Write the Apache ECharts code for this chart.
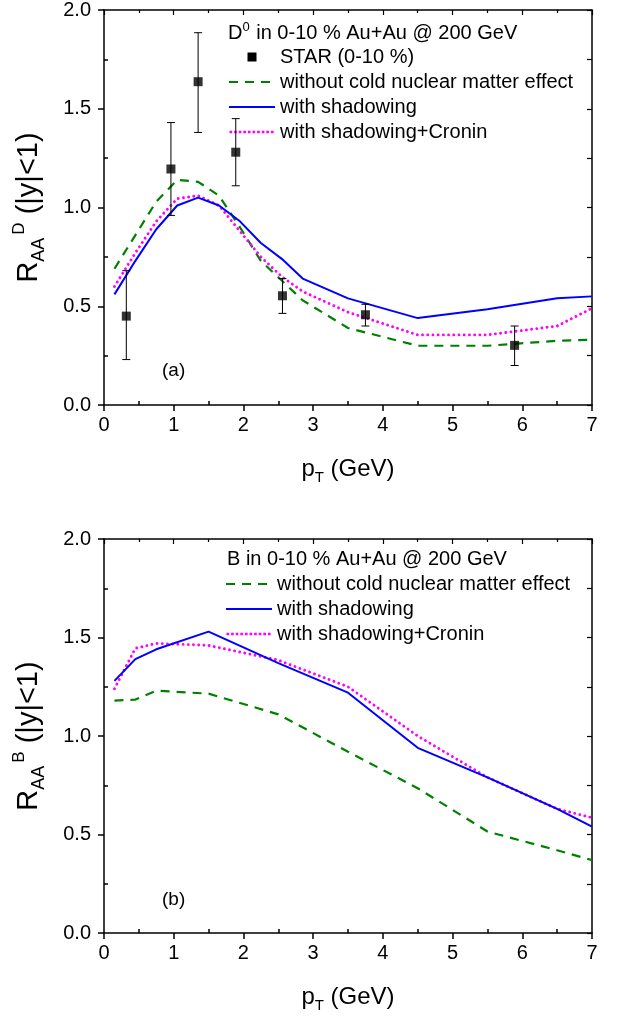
<!DOCTYPE html>
<html>
<head>
<meta charset="utf-8">
<script src="https://cdn.jsdelivr.net/npm/echarts@6/dist/echarts.min.js"></script>
<style>
html,body{margin:0;padding:0;background:#fff;}
#c{width:618px;height:1016px;}
</style>
</head>
<body>
<div id="c"></div>
<script>
// ---------- data ----------
const xTicks = [0, 1, 2, 3, 4, 5, 6, 7];
const yTicks = [0.0, 0.5, 1.0, 1.5, 2.0];

// panel (a): D meson
const ptD = [0.15, 0.45, 0.75, 1.05, 1.35, 1.65, 1.95, 2.25, 2.55, 2.85, 3.5, 4.5, 5.5, 6.5, 7.0];
const dNoCNM   = [0.69, 0.86, 1.03, 1.14, 1.13, 1.06, 0.90, 0.73, 0.63, 0.53, 0.39, 0.30, 0.30, 0.325, 0.33];
const dShadow  = [0.56, 0.73, 0.89, 1.01, 1.05, 1.01, 0.93, 0.82, 0.74, 0.64, 0.54, 0.44, 0.485, 0.54, 0.55];
const dCronin  = [0.60, 0.77, 0.93, 1.045, 1.06, 1.01, 0.88, 0.75, 0.65, 0.575, 0.47, 0.355, 0.355, 0.40, 0.49];

const starPt   = [0.32, 0.96, 1.35, 1.89, 2.56, 3.75, 5.89];
const starR    = [0.45, 1.195, 1.637, 1.28, 0.553, 0.457, 0.302];
const starLow  = [0.23, 0.96, 1.38, 1.11, 0.464, 0.40, 0.20];
const starHigh = [0.68, 1.43, 1.885, 1.45, 0.64, 0.51, 0.40];

// panel (b): B meson
const ptB = [0.15, 0.45, 0.75, 1.5, 2.5, 3.5, 4.5, 5.5, 6.5, 7.0];
const bNoCNM  = [1.18, 1.185, 1.23, 1.215, 1.11, 0.92, 0.735, 0.515, 0.42, 0.37];
const bShadow = [1.28, 1.39, 1.44, 1.53, 1.37, 1.22, 0.94, 0.79, 0.63, 0.54];
const bCronin = [1.24, 1.445, 1.47, 1.46, 1.385, 1.25, 1.00, 0.79, 0.63, 0.585];

const names = {
  star: 'STAR (0-10 %)',
  none: 'without cold nuclear matter effect',
  shad: 'with shadowing',
  cron: 'with shadowing+Cronin'
};

// ---------- helpers ----------
const FONT = 'Arial, "Liberation Sans", sans-serif';
const zip = (xs, ys) => xs.map((x, i) => [x, ys[i]]);
const midpoints = arr => arr.slice(0, -1).map((v, i) => (v + arr[i + 1]) / 2);
const xMinor = midpoints(xTicks);
const yMinor = midpoints(yTicks);
const xMin = xTicks[0], xMax = xTicks[xTicks.length - 1];
const yMin = yTicks[0], yMax = yTicks[yTicks.length - 1];

const axisLine = {show: true, onZero: false, lineStyle: {color: '#000', width: 1.5}};

function axesFor(gridIndex, yName) {
  const xs = [
    {
      type: 'value', gridIndex, min: xMin, max: xMax, interval: 1, position: 'bottom',
      axisLine, splitLine: {show: false},
      axisTick: {show: true, inside: false, length: 6, lineStyle: {color: '#000', width: 1.5}},
      axisLabel: {color: '#000', fontSize: 20, fontFamily: FONT, margin: 10},
      name: 'p{sub|T} (GeV)', nameLocation: 'middle', nameGap: 48,
      nameTextStyle: {color: '#000', fontSize: 24, fontFamily: FONT,
        rich: {sub: {fontSize: 15, fontFamily: FONT, color: '#000', padding: [17, 0, 0, 0]}}}
    },
    {
      type: 'value', gridIndex, min: xMin, max: xMax, position: 'bottom',
      axisLine: {show: false}, splitLine: {show: false}, axisLabel: {show: false},
      axisTick: {show: true, inside: true, length: 4, customValues: xMinor, lineStyle: {color: '#000', width: 1.5}}
    },
    {
      type: 'value', gridIndex, min: xMin, max: xMax, interval: 1, position: 'top',
      axisLine, splitLine: {show: false}, axisLabel: {show: false},
      axisTick: {show: true, inside: true, length: 5, lineStyle: {color: '#000', width: 1.2}},
      minorTick: {show: true, splitNumber: 2, length: 3, lineStyle: {color: '#000', width: 1.2}}
    }
  ];
  const ys = [
    {
      type: 'value', gridIndex, min: yMin, max: yMax, interval: 0.5, position: 'left',
      axisLine, splitLine: {show: false},
      axisTick: {show: true, inside: false, length: 6, lineStyle: {color: '#000', width: 1.5}},
      axisLabel: {color: '#000', fontSize: 20, fontFamily: FONT, margin: 13, formatter: v => v.toFixed(1)},
      name: yName, nameLocation: 'middle', nameRotate: 90, nameGap: 56,
      nameTextStyle: {color: '#000', fontSize: 29, fontFamily: FONT,
        rich: {
          sub: {fontSize: 18, fontFamily: FONT, color: '#000', padding: [20, 0, 0, 0]},
          sup: {fontSize: 17, fontFamily: FONT, color: '#000', padding: [0, 0, 20, 3]}
        }}
    },
    {
      type: 'value', gridIndex, min: yMin, max: yMax, position: 'left',
      axisLine: {show: false}, splitLine: {show: false}, axisLabel: {show: false},
      axisTick: {show: true, inside: true, length: 4, customValues: yMinor, lineStyle: {color: '#000', width: 1.5}}
    },
    {
      type: 'value', gridIndex, min: yMin, max: yMax, interval: 0.5, position: 'right',
      axisLine, splitLine: {show: false}, axisLabel: {show: false},
      axisTick: {show: true, inside: true, length: 5, lineStyle: {color: '#000', width: 1.2}},
      minorTick: {show: true, splitNumber: 2, length: 5, lineStyle: {color: '#000', width: 1.2}}
    }
  ];
  return {xs, ys};
}

const a0 = axesFor(0, 'R{sub|AA}{sup|D} (|y|<1)');
const a1 = axesFor(1, 'R{sub|AA}{sup|B} (|y|<1)');

const styles = {
  none: {color: '#008000', width: 2.2, type: [9, 7]},
  shad: {color: '#0000ff', width: 2, type: 'solid'},
  cron: {color: '#ff00ff', width: 2.9, type: [0.01, 5.2], cap: 'round'}
};

function lineSeries(key, xIdx, yIdx, xs, ys) {
  return {
    type: 'line', name: names[key], xAxisIndex: xIdx, yAxisIndex: yIdx,
    data: zip(xs, ys), symbol: 'none', showSymbol: false, smooth: false,
    lineStyle: Object.assign({}, styles[key]), itemStyle: {color: styles[key].color},
    z: key === 'shad' ? 4 : 3, animation: false
  };
}

const errData = starPt.map((x, i) => [x, starLow[i], starHigh[i]]);

// legend icons (pure styling): bounding corners keep the 46x20 icon box
const boxCorners = 'M0,0h0.01v0.01h-0.01zM46,20h-0.01v-0.01h0.01z';
const squareIcon = 'path://' + boxCorners + 'M18.5,5.5h9v9h-9z';
let dotPath = boxCorners;
for (let x = 0.5; x + 2.7 <= 46; x += 4.6) {
  dotPath += 'M' + x.toFixed(2) + ',8.65h2.7v2.7h-2.7z';
}
const dotIcon = 'path://' + dotPath;

const legendCommon = {
  orient: 'vertical', itemWidth: 46, itemHeight: 20, itemGap: 5, padding: 0,
  itemStyle: {opacity: 0},
  textStyle: {color: '#000', fontSize: 20, fontFamily: FONT}, selectedMode: false
};
const cronLegend = {name: names.cron, icon: dotIcon, itemStyle: {opacity: 1, color: '#ff00ff'}};
const plainText = {color: '#000', fontWeight: 'normal', fontFamily: FONT};

const option = {
  animation: false,
  backgroundColor: '#fff',
  grid: [
    {left: 104, top: 10, width: 488, height: 395},
    {left: 104, top: 539, width: 488, height: 394}
  ],
  xAxis: [...a0.xs, ...a1.xs],
  yAxis: [...a0.ys, ...a1.ys],
  title: [
    {text: 'D{sup|0} in 0-10 % Au+Au @ 200 GeV', left: 228, top: 21, padding: 0,
      textStyle: Object.assign({fontSize: 20,
        rich: {sup: {fontSize: 13, fontFamily: FONT, color: '#000', padding: [0, 1, 12, 0]}}}, plainText)},
    {text: 'B in 0-10 % Au+Au @ 200 GeV', left: 227, top: 549, padding: 0,
      textStyle: Object.assign({fontSize: 20}, plainText)},
    {text: '(a)', left: 162, top: 361, padding: 0, textStyle: Object.assign({fontSize: 19}, plainText)},
    {text: '(b)', left: 162, top: 890, padding: 0, textStyle: Object.assign({fontSize: 19}, plainText)}
  ],
  legend: [
    Object.assign({}, legendCommon, {left: 228, top: 47,
      data: [{name: names.star, icon: squareIcon, itemStyle: {opacity: 1, color: '#000'}},
             names.none, names.shad, cronLegend]}),
    Object.assign({}, legendCommon, {left: 225, top: 574,
      data: [names.none, names.shad, cronLegend]})
  ],
  series: [
    lineSeries('none', 0, 0, ptD, dNoCNM),
    lineSeries('shad', 0, 0, ptD, dShadow),
    lineSeries('cron', 0, 0, ptD, dCronin),
    {
      type: 'custom', name: 'STAR errors', xAxisIndex: 0, yAxisIndex: 0, data: errData, z: 5,
      renderItem: function (params, api) {
        const x = api.value(0);
        const lo = api.coord([x, api.value(1)]);
        const hi = api.coord([x, api.value(2)]);
        const cap = 4;
        const st = {stroke: '#000', lineWidth: 1};
        return {type: 'group', children: [
          {type: 'line', shape: {x1: lo[0], y1: lo[1], x2: hi[0], y2: hi[1]}, style: st},
          {type: 'line', shape: {x1: lo[0] - cap, y1: lo[1], x2: lo[0] + cap, y2: lo[1]}, style: st},
          {type: 'line', shape: {x1: hi[0] - cap, y1: hi[1], x2: hi[0] + cap, y2: hi[1]}, style: st}
        ]};
      },
      encode: {x: 0, y: [1, 2]}
    },
    {
      type: 'scatter', name: names.star, xAxisIndex: 0, yAxisIndex: 0,
      data: zip(starPt, starR), symbol: 'rect', symbolSize: 9,
      itemStyle: {color: '#000'}, z: 6
    },
    lineSeries('none', 3, 3, ptB, bNoCNM),
    lineSeries('shad', 3, 3, ptB, bShadow),
    lineSeries('cron', 3, 3, ptB, bCronin)
  ]
};

const chart = echarts.init(document.getElementById('c'), null, {renderer: 'canvas'});
chart.setOption(option);
</script>
</body>
</html>
